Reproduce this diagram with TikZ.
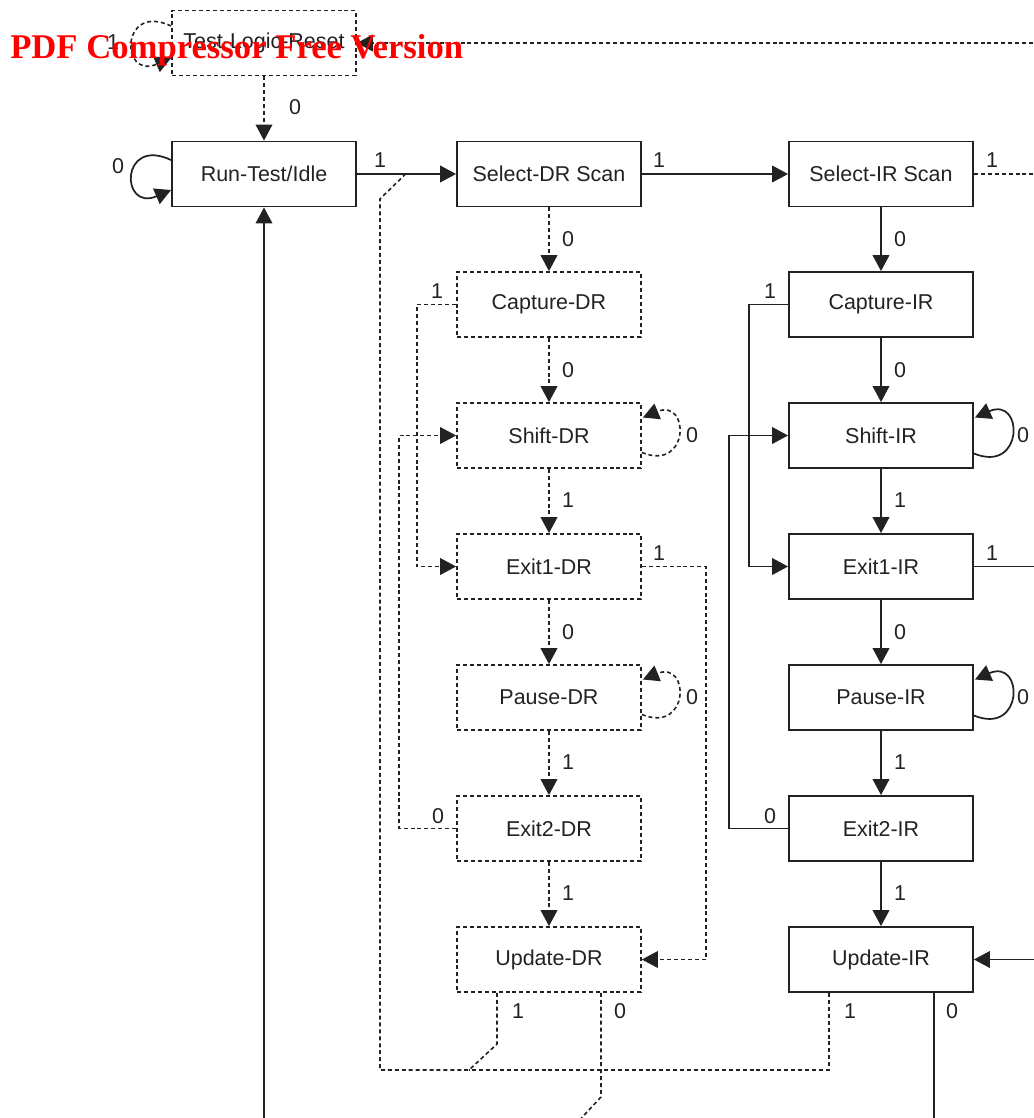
\documentclass[tikz,border=0pt]{standalone}
\usepackage{fontspec}
\setmainfont{Liberation Sans}
\newfontfamily\wmfont{Liberation Serif}
\usetikzlibrary{arrows.meta,calc}
\definecolor{ink}{HTML}{222222}
\newcommand{\fs}{\fontsize{16.1pt}{18pt}\selectfont}
\tikzset{
  st/.style={draw=ink, line width=1.4pt, minimum width=138pt, minimum height=48.75pt, inner sep=0pt, font=\fs, text=ink},
  dst/.style={st, line width=1.3pt, dash pattern=on 3pt off 2.2pt},
  ln/.style={draw=ink, line width=1.3pt},
  dl/.style={ln, line width=1.2pt, dash pattern=on 3pt off 2.2pt},
  arr/.style={-{Triangle[length=12pt,width=12.5pt]}},
  lab/.style={font=\fs, text=ink, inner sep=0pt},
}
\begin{document}
\begin{tikzpicture}[x=0.75pt,y=-0.75pt]
\useasboundingbox (0,0) rectangle (1034,1118);
% states
\node[dst] (tlr) at (264,43) {Test-Logic-Reset};
\node[st] (rti) at (264,174) {Run-Test/Idle};
\node[st] (sdr) at (549,174) {Select-DR Scan};
\node[st] (sir) at (881,174) {Select-IR Scan};
\node[dst] (cdr) at (549,304.5) {Capture-DR};
\node[dst] (shdr) at (549,435.5) {Shift-DR};
\node[dst] (e1dr) at (549,566.5) {Exit1-DR};
\node[dst] (pdr) at (549,697.5) {Pause-DR};
\node[dst] (e2dr) at (549,828.5) {Exit2-DR};
\node[dst] (udr) at (549,959.5) {Update-DR};
\node[st] (cir) at (881,304.5) {Capture-IR};
\node[st] (shir) at (881,435.5) {Shift-IR};
\node[st] (e1ir) at (881,566.5) {Exit1-IR};
\node[st] (pir) at (881,697.5) {Pause-IR};
\node[st] (e2ir) at (881,828.5) {Exit2-IR};
\node[st] (uir) at (881,959.5) {Update-IR};
% free ends
\coordinate (rA) at (1040,43);
\coordinate (rB) at (1040,174);
\coordinate (rC) at (1040,566.5);
\coordinate (rD) at (1040,959.5);
\coordinate (bA) at (264,1125);
\coordinate (bB) at (934,1125);
\coordinate (bC) at (574,1126);
% top
\draw[dl,arr] (tlr) -- (rti);
\node[lab] (l1) at (295,107) {0};
\draw[dl,arr] (rA) -- (tlr.east);
\draw[dl,arr] ($(tlr.west)+(0,-17)$) .. controls (120,2) and (120,80) .. ($(tlr.west)+(0,15)$);
\node[lab] (l2) at (113,42) {1};
\draw[ln,arr] ($(rti.west)+(0,-14)$) .. controls (120,136) and (120,212) .. ($(rti.west)+(0,16)$);
\node[lab] (l3) at (118,166) {0};
\draw[ln,arr] (rti) -- (sdr);
\node[lab] (l4) at (380,160) {1};
\draw[ln,arr] (sdr) -- (sir);
\node[lab] (l5) at (659,160) {1};
\draw[dl] (sir.east) -- (rB);
\node[lab] (l6) at (992,160) {1};
% DR column
\draw[dl,arr] (sdr) -- (cdr); \node[lab] at (568,239) {0};
\draw[dl,arr] (cdr) -- (shdr); \node[lab] at (568,370) {0};
\draw[dl,arr] (shdr) -- (e1dr); \node[lab] at (568,500) {1};
\draw[dl,arr] (e1dr) -- (pdr); \node[lab] at (568,632) {0};
\draw[dl,arr] (pdr) -- (e2dr); \node[lab] at (568,762) {1};
\draw[dl,arr] (e2dr) -- (udr); \node[lab] at (568,893) {1};
\draw[dl,arr] (cdr.west) -- (417,304.5) -- (417,566.5) -- (e1dr.west);
\node[lab] at (437,291) {1};
\draw[dl,arr] (e2dr.west) -- (399,828.5) -- (399,435.5) -- (shdr.west);
\node[lab] at (438,816) {0};
\draw[dl,arr] (e1dr.east) -- (706,566.5) -- (706,959.5) -- (udr.east);
\node[lab] at (659,553) {1};
\draw[dl,arr] ($(shdr.east)+(0,17)$) .. controls (690,472) and (690,398) .. ($(shdr.east)+(1,-18)$);
\node[lab] at (692,435) {0};
\draw[dl,arr] ($(pdr.east)+(0,17)$) .. controls (690,734) and (690,660) .. ($(pdr.east)+(1,-18)$);
\node[lab] at (692,697) {0};
% IR column
\draw[ln,arr] (sir) -- (cir); \node[lab] at (900,239) {0};
\draw[ln,arr] (cir) -- (shir); \node[lab] at (900,370) {0};
\draw[ln,arr] (shir) -- (e1ir); \node[lab] at (900,500) {1};
\draw[ln,arr] (e1ir) -- (pir); \node[lab] at (900,632) {0};
\draw[ln,arr] (pir) -- (e2ir); \node[lab] at (900,762) {1};
\draw[ln,arr] (e2ir) -- (uir); \node[lab] at (900,893) {1};
\draw[ln,arr] (cir.west) -- (749,304.5) -- (749,566.5) -- (e1ir.west);
\node[lab] at (770,291) {1};
\draw[ln,arr] (e2ir.west) -- (729,828.5) -- (729,435.5) -- (shir.west);
\node[lab] at (770,816) {0};
\draw[ln,arr] ($(shir.east)+(0,18)$) .. controls (1024,474) and (1024,396) .. ($(shir.east)+(1,-18)$);
\node[lab] at (1023,435) {0};
\draw[ln,arr] ($(pir.east)+(0,18)$) .. controls (1024,736) and (1024,658) .. ($(pir.east)+(1,-18)$);
\node[lab] at (1023,697) {0};
\draw[ln] (e1ir.east) -- (rC);
\node[lab] at (992,553) {1};
\draw[ln,arr] (rD) -- (uir.east);
% bottom
\draw[dl] (udr.south -| 497,0) -- (497,1044) -- (469,1070) -- (380,1070) -- (380,199) -- (405,174.5);
\node[lab] at (518,1011) {1};
\draw[dl] (uir.south -| 829,0) -- (829,1070) -- (469,1070);
\node[lab] at (850,1011) {1};
\draw[dl] (udr.south -| 601,0) -- (601,1097) -- (bC);
\node[lab] at (620,1011) {0};
\draw[ln] (uir.south -| 934,0) -- (bB);
\node[lab] at (952,1011) {0};
\draw[ln,arr] (bA) -- (rti.south);
% watermark
\node[inner sep=0pt, text=red, font=\wmfont\bfseries\fontsize{26pt}{28pt}\selectfont, anchor=base west] (wm) at (10,58) {PDF Compressor Free Version};
\end{tikzpicture}
\end{document}
